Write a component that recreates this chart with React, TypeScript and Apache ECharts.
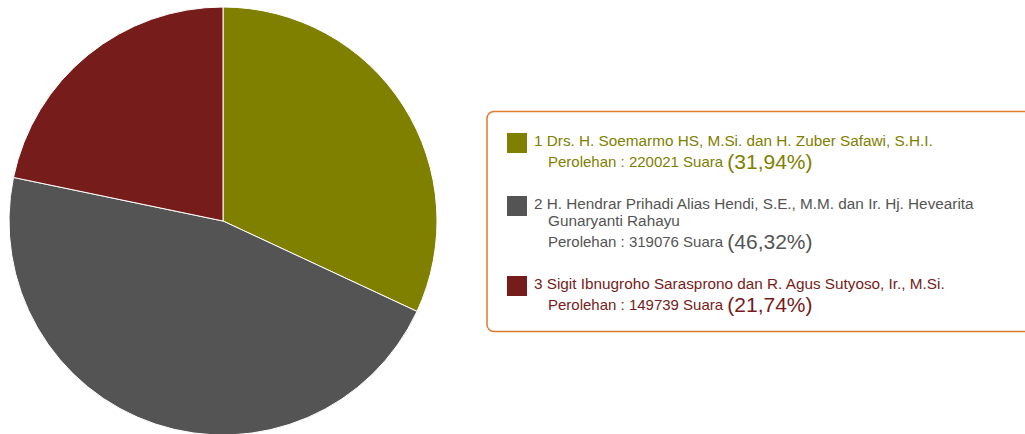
import React, { useEffect, useRef } from "react";
import * as echarts from "echarts";

const candidateNumbers = ["1", "2", "3"];
const candidateNames = [
  "Drs. H. Soemarmo HS, M.Si. dan H. Zuber Safawi, S.H.I.",
  "H. Hendrar Prihadi Alias Hendi, S.E., M.M. dan Ir. Hj. Hevearita\nGunaryanti Rahayu",
  "Sigit Ibnugroho Sarasprono dan R. Agus Sutyoso, Ir., M.Si.",
];
const votes = [220021, 319076, 149739];
const colors = ["#808000", "#545454", "#761c1a"];

const FONT = "'Liberation Sans', Arial, sans-serif";

export default function App() {
  const ref = useRef<HTMLDivElement>(null);
  useEffect(() => {
    if (!ref.current) return;
    const chart = echarts.init(ref.current, undefined, { renderer: "svg" });
    const total = votes.reduce((a, b) => a + b, 0);

    const legendEls: any[] = [];
    legendEls.push({
      type: "rect",
      shape: { x: 487, y: 111.5, width: 600, height: 220, r: 7 },
      style: { fill: "#fff", stroke: "#e07b2c", lineWidth: 1.5 },
      z: 1,
    });
    let y = 140;
    candidateNames.forEach((name, i) => {
      const lines = name.split("\n");
      legendEls.push({
        type: "rect",
        shape: { x: 507, y: y - 7, width: 20, height: 20 },
        style: { fill: colors[i] },
        z: 2,
      });
      lines.forEach((ln, j) => {
        legendEls.push({
          type: "text",
          x: j === 0 ? 534 : 548,
          y: y + j * 17,
          style: {
            text: (j === 0 ? candidateNumbers[i] + " " : "") + ln,
            fill: colors[i],
            font: `15.3px ${FONT}`,
            verticalAlign: "middle",
          },
          z: 2,
        });
      });
      const py = y + (lines.length - 1) * 17 + 21;
      const pct = ((votes[i] / total) * 100).toFixed(2).replace(".", ",");
      legendEls.push({
        type: "text",
        x: 548,
        y: py,
        style: {
          text: `{a|Perolehan : ${votes[i]} Suara }{b|(${pct}%)}`,
          fill: colors[i],
          verticalAlign: "middle",
          rich: {
            a: { fontSize: 15, fontFamily: FONT, fill: colors[i] },
            b: { fontSize: 21, fontFamily: FONT, fill: colors[i] },
          },
        },
        z: 2,
      });
      y = py + 42;
    });

    chart.setOption({
      animation: false,
      backgroundColor: "#fff",
      series: [
        {
          type: "pie",
          center: [223, 221],
          radius: 214,
          startAngle: 90,
          clockwise: true,
          label: { show: false },
          labelLine: { show: false },
          silent: true,
          itemStyle: { borderColor: "#ffffff", borderWidth: 1 },
          data: candidateNames.map((n, i) => ({
            name: candidateNumbers[i] + " " + n.replace("\n", " "),
            value: votes[i],
            itemStyle: { color: colors[i] },
          })),
        },
      ],
      graphic: legendEls,
    });
    return () => chart.dispose();
  }, []);
  return (
    <div
      ref={ref}
      style={{ position: "fixed", left: 0, top: 0, width: 1025, height: 434 }}
    />
  );
}
